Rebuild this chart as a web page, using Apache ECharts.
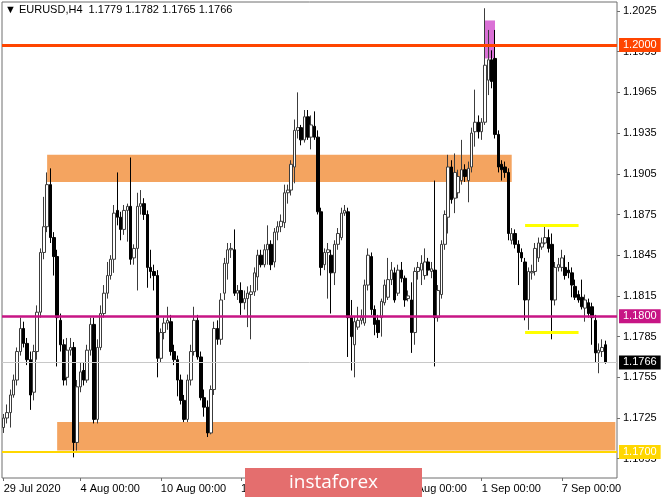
<!DOCTYPE html>
<html>
<head>
<meta charset="utf-8">
<script src="https://cdn.jsdelivr.net/npm/echarts@6/dist/echarts.min.js"></script>
<style>
html,body{margin:0;padding:0;background:#fff;}
#chart{width:665px;height:499px;}
</style>
</head>
<body>
<div id="chart"></div>
<script>
// ---- data (EURUSD H4) ----
const symbolTitle = 'EURUSD,H4';
const opens = [
1.1718,1.1725,1.1729,1.1742,1.1753,1.1774,1.1791,1.1780,1.1768,1.1744,
1.1774,1.1803,1.1847,1.1866,1.1897,1.1858,1.1844,1.1797,1.1779,1.1755,
1.1775,1.1777,1.1707,1.1748,1.1760,1.1753,1.1775,1.1794,1.1724,1.1777,
1.1802,1.1817,1.1830,1.1842,1.1878,1.1873,1.1864,1.1878,1.1881,1.1843,
1.1850,1.1881,1.1883,1.1875,1.1836,1.1833,1.1830,1.1769,1.1788,1.1795,
1.1796,1.1774,1.1768,1.1753,1.1738,1.1724,1.1753,1.1774,1.1797,1.1770,
1.1740,1.1733,1.1714,1.1746,1.1791,1.1783,1.1817,1.1839,1.1849,1.1849,
1.1817,1.1819,1.1810,1.1813,1.1816,1.1818,1.1829,1.1845,1.1838,1.1849,
1.1853,1.1840,1.1862,1.1866,1.1869,1.1891,1.1893,1.1910,1.1937,1.1939,
1.1930,1.1947,1.1932,1.1940,1.1932,1.1877,1.1838,1.1847,1.1845,1.1832,
1.1853,1.1858,1.1876,1.1877,1.1799,1.1779,1.1792,1.1797,1.1795,1.1823,
1.1844,1.1805,1.1797,1.1799,1.1810,1.1814,1.1827,1.1832,1.1817,1.1834,
1.1828,1.1813,1.1812,1.1788,1.1833,1.1834,1.1830,1.1840,1.1833,1.1834,
1.1799,1.1816,1.1853,1.1873,1.1910,1.1887,1.1891,1.1900,1.1908,1.1900,
1.1910,1.1936,1.1943,1.1936,1.1943,1.1974,1.1989,1.1990,1.1934,1.1912,
1.1910,1.1906,1.1856,1.1861,1.1853,1.1847,1.1840,1.1812,1.1832,1.1833,
1.1843,1.1851,1.1854,1.1858,1.1853,1.1812,1.1836,1.1836,1.1836,1.1834,
1.1832,1.1822,1.1816,1.1814,1.1806,1.1810,1.1807,1.1797,1.1773,1.1774,
1.1779
];
const closes = [
1.1725,1.1729,1.1742,1.1753,1.1774,1.1791,1.1780,1.1768,1.1742,1.1774,
1.1803,1.1847,1.1866,1.1897,1.1858,1.1844,1.1799,1.1779,1.1753,1.1775,
1.1777,1.1707,1.1748,1.1759,1.1753,1.1775,1.1794,1.1724,1.1777,1.1802,
1.1817,1.1830,1.1842,1.1876,1.1873,1.1864,1.1878,1.1881,1.1842,1.1850,
1.1881,1.1883,1.1875,1.1836,1.1833,1.1830,1.1769,1.1788,1.1795,1.1797,
1.1774,1.1768,1.1753,1.1738,1.1724,1.1753,1.1774,1.1797,1.1770,1.1740,
1.1733,1.1714,1.1746,1.1791,1.1783,1.1812,1.1839,1.1849,1.1850,1.1817,
1.1819,1.1810,1.1813,1.1817,1.1818,1.1832,1.1845,1.1838,1.1849,1.1853,
1.1838,1.1862,1.1866,1.1870,1.1891,1.1893,1.1912,1.1937,1.1939,1.1930,
1.1947,1.1932,1.1941,1.1932,1.1877,1.1836,1.1847,1.1849,1.1832,1.1853,
1.1861,1.1876,1.1878,1.1799,1.1785,1.1796,1.1797,1.1799,1.1823,1.1845,
1.1805,1.1794,1.1788,1.1811,1.1823,1.1827,1.1834,1.1812,1.1834,1.1828,
1.1812,1.1815,1.1788,1.1833,1.1836,1.1839,1.1840,1.1834,1.1835,1.1799,
1.1819,1.1853,1.1875,1.1910,1.1886,1.1906,1.1903,1.1908,1.1903,1.1909,
1.1935,1.1943,1.1936,1.1943,1.1985,1.1989,1.1973,1.1934,1.1910,1.1908,
1.1906,1.1861,1.1861,1.1853,1.1847,1.1843,1.1812,1.1833,1.1833,1.1850,
1.1854,1.1854,1.1858,1.1850,1.1812,1.1836,1.1838,1.1843,1.1830,1.1832,
1.1823,1.1814,1.1812,1.1807,1.1812,1.1802,1.1799,1.1773,1.1775,1.1777,
1.1766
];
const lows = [
1.1714,1.1721,1.1718,1.1740,1.1749,1.1771,1.1777,1.1764,1.1731,1.1738,
1.1768,1.1799,1.1842,1.1862,1.1854,1.1830,1.1763,1.1774,1.1749,1.1749,
1.1771,1.1696,1.1701,1.1744,1.1749,1.1751,1.1771,1.1721,1.1721,1.1775,
1.1799,1.1813,1.1827,1.1832,1.1867,1.1856,1.1860,1.1855,1.1838,1.1838,
1.1819,1.1875,1.1871,1.1821,1.1828,1.1819,1.1755,1.1766,1.1783,1.1790,
1.1771,1.1764,1.1741,1.1735,1.1722,1.1722,1.1749,1.1771,1.1768,1.1738,
1.1726,1.1711,1.1713,1.1742,1.1779,1.1779,1.1812,1.1827,1.1843,1.1815,
1.1812,1.1801,1.1805,1.1792,1.1783,1.1815,1.1819,1.1836,1.1836,1.1838,
1.1834,1.1836,1.1856,1.1862,1.1865,1.1883,1.1889,1.1898,1.1931,1.1926,
1.1928,1.1930,1.1923,1.1930,1.1875,1.1830,1.1834,1.1813,1.1802,1.1823,
1.1849,1.1856,1.1874,1.1770,1.1760,1.1755,1.1790,1.1794,1.1793,1.1819,
1.1801,1.1786,1.1784,1.1785,1.1808,1.1812,1.1823,1.1810,1.1815,1.1825,
1.1807,1.1811,1.1773,1.1779,1.1827,1.1823,1.1827,1.1830,1.1828,1.1763,
1.1796,1.1813,1.1849,1.1861,1.1883,1.1876,1.1887,1.1897,1.1899,1.1884,
1.1906,1.1925,1.1931,1.1930,1.1941,1.1963,1.1968,1.1931,1.1906,1.1900,
1.1902,1.1856,1.1853,1.1850,1.1823,1.1840,1.1797,1.1790,1.1827,1.1830,
1.1840,1.1849,1.1853,1.1847,1.1783,1.1808,1.1833,1.1833,1.1827,1.1828,
1.1814,1.1812,1.1810,1.1805,1.1796,1.1799,1.1779,1.1766,1.1758,1.1770,
1.1765
];
const highs = [
1.1728,1.1735,1.1746,1.1757,1.1777,1.1799,1.1796,1.1784,1.1774,1.1779,
1.1808,1.1850,1.1888,1.1906,1.1909,1.1862,1.1849,1.1802,1.1783,1.1784,
1.1784,1.1781,1.1753,1.1766,1.1766,1.1779,1.1799,1.1799,1.1783,1.1808,
1.1823,1.1840,1.1845,1.1882,1.1906,1.1877,1.1882,1.1883,1.1917,1.1853,
1.1891,1.1893,1.1887,1.1878,1.1849,1.1838,1.1834,1.1791,1.1799,1.1807,
1.1801,1.1779,1.1771,1.1757,1.1742,1.1757,1.1779,1.1807,1.1801,1.1774,
1.1746,1.1738,1.1749,1.1796,1.1797,1.1817,1.1843,1.1854,1.1854,1.1864,
1.1823,1.1825,1.1819,1.1822,1.1823,1.1836,1.1849,1.1849,1.1853,1.1867,
1.1856,1.1865,1.1870,1.1875,1.1897,1.1897,1.1915,1.1945,1.1965,1.1941,
1.1952,1.1952,1.1948,1.1951,1.1937,1.1880,1.1850,1.1854,1.1849,1.1856,
1.1865,1.1880,1.1882,1.1880,1.1812,1.1800,1.1807,1.1805,1.1827,1.1850,
1.1847,1.1808,1.1801,1.1813,1.1827,1.1843,1.1840,1.1836,1.1838,1.1840,
1.1830,1.1819,1.1825,1.1836,1.1840,1.1845,1.1850,1.1843,1.1840,1.1900,
1.1823,1.1856,1.1878,1.1919,1.1915,1.1920,1.1908,1.1930,1.1912,1.1914,
1.1939,1.1967,1.1948,1.1946,1.2027,1.2011,1.1996,1.2011,1.1937,1.1915,
1.1914,1.1909,1.1865,1.1864,1.1856,1.1850,1.1843,1.1836,1.1838,1.1854,
1.1858,1.1858,1.1866,1.1864,1.1861,1.1840,1.1843,1.1849,1.1845,1.1840,
1.1836,1.1827,1.1819,1.1827,1.1816,1.1813,1.1810,1.1801,1.1780,1.1783,
1.1782
];
const emptySlots = 3;                       // chart shift on the right
const priceTicks = [1.1695,1.1725,1.1755,1.1785,1.1815,1.1845,1.1875,1.1905,1.1935,1.1965,1.1995,1.2025];
const yMin = 1.16808, yMax = 1.20316;
const timeLabels = ['29 Jul 2020','4 Aug 00:00','10 Aug 00:00','14 Aug 00:00','20 Aug 00:00','26 Aug 00:00','1 Sep 00:00','7 Sep 00:00'];
const timeLabelIndex = [0,23,47,71,95,119,143,167];
// horizontal levels
const levelRed = 1.2000, levelMagenta = 1.1800, levelYellow = 1.1700, bidPrice = 1.1766;
// zones
const upperZone = {from: 13, to: 152, top: 1.1919, bottom: 1.1899};
const lowerZone = {from: 16, top: 1.1722, bottom: 1.1701};
const spikeBox = {from: 144, to: 147, top: 1.2018, bottom: 1.1990};
const rangeLines = {from: 156, to: 172, top: 1.1867, bottom: 1.1788};

// ---- category slots (H4 bars, weekdays) ----
const nBars = opens.length;
const categories = [];
(function(){
  const months = ['Jan','Feb','Mar','Apr','May','Jun','Jul','Aug','Sep','Oct','Nov','Dec'];
  let d = new Date(Date.UTC(2020,6,29,4));
  while (categories.length < nBars + emptySlots) {
    const wd = d.getUTCDay();
    if (wd !== 0 && wd !== 6) {
      categories.push(d.getUTCDate()+' '+months[d.getUTCMonth()]+' '+String(d.getUTCHours()).padStart(2,'0')+':00');
    }
    d = new Date(d.getTime() + 4*3600*1000);
  }
})();
const candleData = opens.map((o,i)=>[o, closes[i], lows[i], highs[i]]);
const lastIdx = nBars - 1;
const lastCat = categories.length - 1;

const FONT = 'Liberation Sans';
const chart = echarts.init(document.getElementById('chart'), null, {renderer:'canvas'});

function levelLabel(bg){
  return {show:true, position:'end', distance:2, formatter:(p)=>Number(p.value).toFixed(4),
    backgroundColor:bg, color:'#fff', fontFamily:FONT, fontSize:11, padding:[1,4,0,4], lineHeight:13};
}

chart.setOption({
  animation:false,
  backgroundColor:'#ffffff',
  grid:{left:2, right:48, top:2, bottom:21, show:true, borderColor:'#6e6e6e', borderWidth:1, backgroundColor:'transparent'},
  xAxis:{
    type:'category', data:categories, boundaryGap:true,
    axisLine:{show:false},
    axisTick:{show:true, alignWithLabel:true, length:3, lineStyle:{color:'#6e6e6e'},
      interval:(idx)=>timeLabelIndex.includes(idx)},
    axisLabel:{show:true, interval:(idx)=>timeLabelIndex.includes(idx),
      formatter:(v,idx)=>{const k=timeLabelIndex.indexOf(idx); return k>=0?timeLabels[k]:'';},
      align:'left', margin:5, color:'#000', fontFamily:FONT, fontSize:11},
    splitLine:{show:false}
  },
  yAxis:{
    type:'value', position:'right', min:yMin, max:yMax, scale:true,
    axisLine:{show:false},
    axisTick:{show:true, length:3, lineStyle:{color:'#6e6e6e'}, customValues:priceTicks},
    axisLabel:{show:true, customValues:priceTicks, formatter:(v)=>v.toFixed(4),
      margin:6, color:'#000', fontFamily:FONT, fontSize:11},
    splitLine:{show:false}
  },
  graphic:[
    {type:'text', left:5, top:4, z:100, style:{text:'\u25BC '+symbolTitle+'  '+
      [opens[lastIdx],highs[lastIdx],lows[lastIdx],closes[lastIdx]].map(v=>v.toFixed(4)).join(' '),
      fill:'#000', font:'11px "Liberation Sans"'}},
    {type:'rect', zlevel:1, z:100, shape:{x:245,y:468,width:177,height:29}, style:{fill:'#e46e6e'}},
    {type:'text', zlevel:1, z:101, x:333.5, y:483, style:{text:'instaforex', fill:'#ffffff', font:'19px "Open Sans"', align:'center', verticalAlign:'middle'}}
  ],
  series:[{
    type:'candlestick', data:candleData, clip:false, barWidth:3,
    itemStyle:{color:'#ffffff', color0:'#000000', borderColor:'#3c3c3c', borderColor0:'#000000', borderWidth:1},
    markArea:{silent:true, data:[
      [{xAxis:upperZone.from, yAxis:upperZone.top, itemStyle:{color:'#f4a460'}},{xAxis:upperZone.to, yAxis:upperZone.bottom}],
      [{xAxis:lowerZone.from, yAxis:lowerZone.top, itemStyle:{color:'#f4a460'}},{xAxis:lastCat, yAxis:lowerZone.bottom}],
      [{xAxis:spikeBox.from, yAxis:spikeBox.top, itemStyle:{color:'#da70d6'}},{xAxis:spikeBox.to, yAxis:spikeBox.bottom}]
    ]},
    markLine:{silent:true, symbol:['none','none'], precision:4, z:5, data:[
      {yAxis:bidPrice, lineStyle:{color:'#c8c8c8', width:1, type:'solid'}, label:levelLabel('#000000')},
      {yAxis:levelYellow, lineStyle:{color:'#ffd700', width:2, type:'solid'}, label:levelLabel('#ffd700')},
      {yAxis:levelMagenta, lineStyle:{color:'#c71585', width:2.5, type:'solid'}, label:levelLabel('#c71585')},
      {yAxis:levelRed, lineStyle:{color:'#ff4500', width:3, type:'solid'}, label:levelLabel('#ff4500')},
      [{xAxis:rangeLines.from, yAxis:rangeLines.top, lineStyle:{color:'#ffff00', width:3, type:'solid'}, label:{show:false}},{xAxis:rangeLines.to, yAxis:rangeLines.top}],
      [{xAxis:rangeLines.from, yAxis:rangeLines.bottom, lineStyle:{color:'#ffff00', width:3, type:'solid'}, label:{show:false}},{xAxis:rangeLines.to, yAxis:rangeLines.bottom}]
    ]}
  }]
});
</script>
</body>
</html>
